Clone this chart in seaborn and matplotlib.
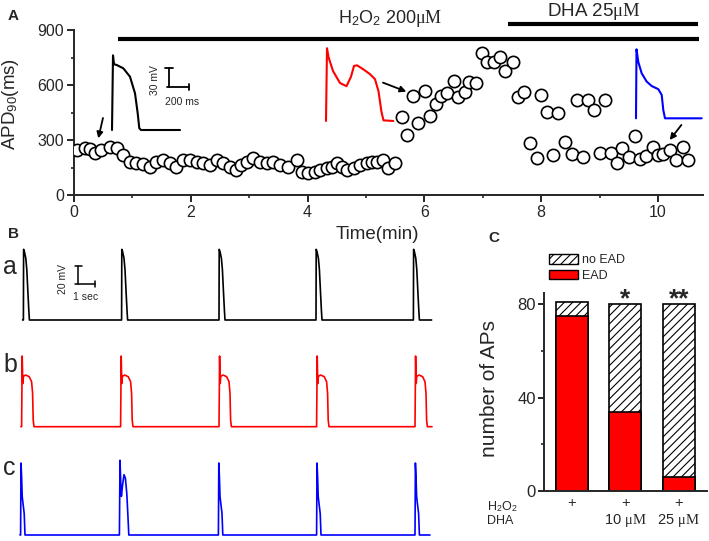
import numpy as np
import pandas as pd
import matplotlib
matplotlib.use("Agg")
import matplotlib.pyplot as plt
import seaborn as sns
from matplotlib.patches import Patch

# ---- panel A: APD90 over time (min, ms)
base_t = [0.05, 0.19, 0.28, 0.36, 0.47, 0.62, 0.73, 0.84, 0.96, 1.07, 1.19, 1.30, 1.41,
          1.53, 1.64, 1.75, 1.87, 1.98, 2.10, 2.21, 2.33, 2.44, 2.55, 2.67, 2.78, 2.86,
          2.96, 3.07, 3.18, 3.30, 3.41, 3.53, 3.67, 3.82, 3.90, 4.01, 4.13, 4.22, 4.33,
          4.42, 4.50, 4.59, 4.67, 4.79, 4.90, 5.01, 5.10, 5.18, 5.29, 5.38, 5.49]
base_apd = [245, 256, 250, 229, 245, 264, 256, 218, 182, 174, 169, 155, 182,
            191, 174, 155, 191, 191, 182, 174, 165, 191, 174, 155, 137, 164,
            182, 200, 182, 174, 182, 164, 155, 191, 127, 118, 127, 136, 146,
            155, 174, 155, 136, 146, 164, 174, 178, 182, 191, 146, 174]
ead_t = [5.61, 5.71, 5.80, 5.89, 6.01, 6.09, 6.20, 6.28, 6.39, 6.50, 6.58, 6.69, 6.77,
         6.88, 6.99, 7.08, 7.19, 7.30, 7.38, 7.52, 7.60, 7.70, 7.99, 8.10, 8.29, 8.61,
         8.80, 8.90, 9.10]
ead_apd = [427, 327, 540, 394, 567, 431, 496, 538, 558, 622, 536, 563, 618,
           613, 776, 725, 725, 753, 678, 725, 536, 560, 546, 454, 445, 520,
           516, 462, 518]
dha_t = [7.80, 7.92, 8.20, 8.40, 8.52, 8.71, 9.00, 9.20, 9.30, 9.39, 9.50, 9.60, 9.69,
         9.80, 9.91, 10.00, 10.08, 10.20, 10.30, 10.42, 10.51]
dha_apd = [282, 200, 220, 290, 224, 208, 227, 227, 172, 258, 205, 322, 198,
           212, 264, 220, 222, 245, 190, 264, 190]

# AP shapes drawn as insets in panel A (ms, mV)
ctrl_ms = [-10, 0, 10, 37, 103, 170, 220, 247, 263, 280, 670]
ctrl_mv = [-80, 38, 24, 22.7, 17.5, 4.2, -22, -53.6, -77.3, -80, -80]
h2o2_ms = [-10, 0, 15, 60, 130, 195, 240, 270, 300, 360, 430, 480, 515, 545, 565, 663]
h2o2_mv = [-80, 35, 21, -1, -20, -25, -10, 7, 8, 2, -6, -14, -33, -66, -79, -80]
dha_ms = [-5, 0, 18, 52, 102, 152, 218, 252, 268, 285, 652]
dha_mv = [-80, 29, 9, -9, -22, -29, -34, -43, -67, -80, -80]

# ---- panel B: trains of APs (s, mV)
a_onsets = [0.17, 5.08, 9.95, 14.80, 19.67]
b_onsets = [0.08, 5.03, 9.95, 14.83, 19.75]
c_onsets = [0.03, 4.97, 9.92, 14.83, 19.75]
a_shape = ([0, 0.01, 0.05, 0.12, 0.17, 0.22, 0.27, 0.30],
           [-80, -1.5, -4, -11.5, -24, -47, -69, -80])
b_shape = ([0, 0.03, 0.06, 0.09, 0.20, 0.38, 0.50, 0.55, 0.58, 0.62],
           [-80, -1.5, -32, -24, -22.6, -24.4, -30, -43, -72.6, -80])
c_shape = ([0, 0.02, 0.05, 0.08, 0.12, 0.18, 0.22],
           [-80, 0, -15, -37, -45, -56, -80])
c_ead_shape = ([0, 0.03, 0.07, 0.10, 0.15, 0.23, 0.30, 0.37, 0.42, 0.47],
               [-80, 3, -23, -37, -26, -13, -17, -34, -56, -80])

# ---- panel C: counts of APs
conditions = ["H2O2", "H2O2 + DHA 10", "H2O2 + DHA 25"]
total_aps = [81, 80, 80]
ead_aps = [75, 34, 6]
tick_labels = ["+\n", "+\n10 $\\mathrm{\\mu M}$", "+\n25 $\\mathrm{\\mu M}$"]

sns.set_style("ticks")
plt.rcParams["font.family"] = ["Liberation Sans", "DejaVu Sans"]
plt.rcParams["mathtext.fontset"] = "custom"
plt.rcParams["mathtext.rm"] = "Liberation Serif"
plt.rcParams["mathtext.it"] = "Liberation Serif:italic"
plt.rcParams["mathtext.sf"] = "Liberation Sans"
plt.rcParams["hatch.linewidth"] = 0.8
plt.rcParams["axes.linewidth"] = 1.4

W, H = 709, 541


def px_box(x0, y0, x1, y1):
    return [x0 / W, 1 - y1 / H, (x1 - x0) / W, (y1 - y0) / H]


def build_trace(onsets, shapes, t_start, t_end, rest=-80):
    t, v = [t_start], [rest]
    for on, (st, sv) in zip(onsets, shapes):
        t.extend(on + np.array(st))
        v.extend(sv)
    t.append(t_end)
    v.append(rest)
    return np.array(t), np.array(v)


fig = plt.figure(figsize=(W / 100, H / 100), dpi=100)

# ================= panel A
axA = fig.add_axes(px_box(74, 30, 703, 195))
apd = pd.DataFrame({"t": base_t + ead_t + dha_t, "apd": base_apd + ead_apd + dha_apd})
sns.scatterplot(data=apd, x="t", y="apd", ax=axA, s=78, marker="o", color="white",
                edgecolor="black", linewidth=1.2, legend=False, zorder=3)
axA.set_xlim(0, 10.77)
axA.set_ylim(0, 900)
axA.set_xticks(range(0, 11, 2))
axA.set_xticks([1, 3, 5, 7, 9], minor=True)
axA.set_yticks([0, 300, 600, 900])
axA.set_yticks([150, 450, 750], minor=True)
axA.tick_params(which="major", length=5, width=1.4, labelsize=11.5, pad=2)
axA.tick_params(which="minor", length=2.5, width=1.2)
sns.despine(ax=axA)
axA.set_xlabel("Time(min)", fontsize=13.5)
axA.xaxis.set_label_coords(0.482, -0.19)
axA.set_ylabel("APD$_\\mathsf{90}$(ms)", fontsize=13.5)
axA.yaxis.set_label_coords(-0.084, 0.55)

# drug bars
axA.plot([0.753, 10.71], [850, 850], color="black", lw=3, clip_on=False, solid_capstyle="butt")
axA.plot([7.43, 10.68], [933, 933], color="black", lw=3, clip_on=False, solid_capstyle="butt")
axA.text(5.42, 938, "H$_\\mathsf{2}$O$_\\mathsf{2}$ 200$\\mathrm{\\mu M}$", ha="center",
         va="baseline", fontsize=13)
axA.text(8.9, 975, "DHA 25$\\mathrm{\\mu M}$", ha="center", va="baseline", fontsize=13.5)

arrow = dict(arrowstyle="-|>", color="black", lw=1.3, mutation_scale=9, shrinkA=0, shrinkB=0)
axA.annotate("", xy=(0.416, 309), xytext=(0.496, 420), arrowprops=arrow)
axA.annotate("", xy=(5.69, 564), xytext=(5.29, 613), arrowprops=arrow)
axA.annotate("", xy=(10.2, 300), xytext=(10.4, 382), arrowprops=arrow)

# AP insets
insC = fig.add_axes(px_box(105, 45, 195, 135))
sns.lineplot(x=ctrl_ms, y=ctrl_mv, sort=False, estimator=None, color="black", lw=1.5, ax=insC)
insC.set_xlim(-80, 820)
insC.set_ylim(-87.9, 54.3)
insC.axis("off")
insC.plot([563, 563], [-12.5, 17.5], color="black", lw=1.3)
insC.plot([520, 603], [17.5, 17.5], color="black", lw=1.3)
insC.plot([537, 763], [-12.5, -12.5], color="black", lw=1.3)
insC.plot([763, 763], [-17.5, -7.5], color="black", lw=1.3)
insC.text(420, -1, "30 mV", rotation=90, ha="center", va="center", fontsize=7.5)
insC.text(695, -36, "200 ms", ha="center", va="center", fontsize=7.5)

insR = fig.add_axes(px_box(318, 40, 398, 128))
sns.lineplot(x=h2o2_ms, y=h2o2_mv, sort=False, estimator=None, color="red", lw=1.5, ax=insR)
insR.set_xlim(-90, 710)
insR.set_ylim(-91.1, 48.0)
insR.axis("off")

insB = fig.add_axes(px_box(628, 40, 708, 128))
sns.lineplot(x=dha_ms, y=dha_mv, sort=False, estimator=None, color="blue", lw=1.5, ax=insB)
insB.set_xlim(-85, 715)
insB.set_ylim(-95.3, 43.7)
insB.axis("off")

# ================= panel B
traces = [
    (a_onsets, [a_shape] * 5, 0.13, 20.58, "black", 320),
    (b_onsets, [b_shape] * 5, 0.05, 20.60, "red", 426.7),
    (c_onsets, [c_shape, c_ead_shape, c_shape, c_shape, c_shape], 0.0, 20.5, "blue", 535),
]
trace_axes = []
for onsets, shapes, t0, t1, col, base_px in traces:
    ax = fig.add_axes(px_box(14, base_px + 7.2 - 86.4, 440, base_px + 7.2))
    t, v = build_trace(onsets, shapes, t0, t1)
    sns.lineplot(x=t, y=v, sort=False, estimator=None, color=col, lw=1.2, ax=ax)
    ax.set_xlim(-0.3, 21)
    ax.set_ylim(-88, 8)
    ax.axis("off")
    trace_axes.append(ax)

axa = trace_axes[0]
axa.plot([2.92, 2.92], [-40, -20], color="black", lw=1.1)
axa.plot([2.75, 3.08], [-20, -20], color="black", lw=1.1)
axa.plot([2.75, 3.75], [-40, -40], color="black", lw=1.1)
axa.plot([3.75, 3.75], [-43, -37], color="black", lw=1.1)
axa.text(2.13, -35, "20 mV", rotation=90, ha="center", va="center", fontsize=7.5)
axa.text(3.3, -55, "1 sec", ha="center", va="center", fontsize=7.5)

for lab, ybase in zip(["a", "b", "c"], [274, 371.7, 475]):
    fig.text(3 / W, 1 - ybase / H, lab, fontsize=18, va="baseline", ha="left")

# ================= panel C
axC = fig.add_axes(px_box(544, 292.7, 706.7, 490.7))
sns.barplot(x=conditions, y=total_aps, color="white", saturation=1, edgecolor="black",
            linewidth=1.2, hatch="////", width=0.6, ax=axC)
sns.barplot(x=conditions, y=ead_aps, color="red", saturation=1, edgecolor="black",
            linewidth=1.2, width=0.6, ax=axC)
axC.set_xlim(-0.52, 2.52)
axC.set_ylim(0, 85)
axC.set_yticks([0, 40, 80])
axC.set_yticks([20, 60], minor=True)
axC.set_xticks([0, 1, 2])
axC.set_xticklabels(tick_labels, fontsize=10.5, linespacing=1.15)
axC.tick_params(axis="x", length=0, pad=4)
axC.tick_params(axis="y", which="major", length=4, width=1.4, labelsize=12, pad=2)
axC.tick_params(axis="y", which="minor", length=2.5, width=1.2)
sns.despine(ax=axC)
axC.set_ylabel("number of APs", fontsize=15)
axC.yaxis.set_label_coords(-0.277, 0.515)
axC.text(1, 79, "*", ha="center", va="baseline", fontsize=19, weight="bold")
axC.text(2, 79, "**", ha="center", va="baseline", fontsize=19, weight="bold")

handles = [Patch(facecolor="white", edgecolor="black", hatch="////", label="no EAD"),
           Patch(facecolor="red", edgecolor="black", label="EAD")]
fig.legend(handles=handles, loc="upper left", bbox_to_anchor=(549 / W, 1 - 254 / H),
           frameon=False, fontsize=9, handlelength=2.3, handleheight=0.8,
           handletextpad=0.35, labelspacing=0.3, borderpad=0, borderaxespad=0)

fig.text(487 / W, 1 - 507 / H, "H$_\\mathsf{2}$O$_\\mathsf{2}$", fontsize=9, va="center")
fig.text(487 / W, 1 - 521 / H, "DHA", fontsize=9, va="center")

# panel letters
fig.text(8 / W, 1 - 9 / H, "A", fontsize=11, weight="bold", va="top")
fig.text(8 / W, 1 - 227 / H, "B", fontsize=11, weight="bold", va="top")
fig.text(488 / W, 1 - 231 / H, "C", fontsize=11, weight="bold", va="top")

fig.savefig("out.png", dpi=100)
